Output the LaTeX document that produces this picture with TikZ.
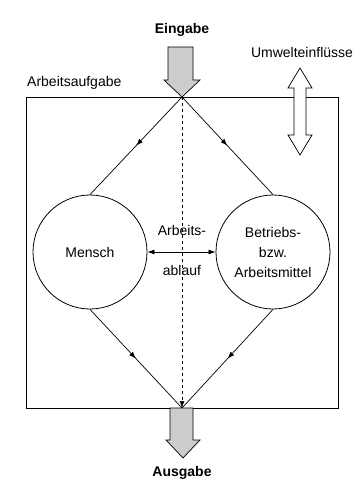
\documentclass[tikz,border=0pt]{standalone}
\usepackage{fontspec}
\setmainfont{Liberation Sans}
\usetikzlibrary{arrows.meta,decorations.markings}
\begin{document}
\begin{tikzpicture}[x=1pt,y=-1pt,
  lbl/.style={font=\fontsize{14}{20}\selectfont, inner sep=0pt, align=center},
  bold/.style={font=\fontsize{14}{20}\selectfont\bfseries, inner sep=0pt},
  circ/.style={circle, draw, line width=0.8pt, minimum size=114pt, inner sep=0pt,
    font=\fontsize{14}{20}\selectfont, align=center},
  flow/.style={line width=0.7pt, postaction={decorate},
    decoration={markings, mark=at position 0.5 with {\arrow{Latex[length=7pt,width=5pt]}}}},
  bigarrow/.style={draw, line width=0.7pt, line join=miter}
]
\useasboundingbox (0,0) rectangle (359,484);

% system boundary
\node[draw, line width=0.8pt, minimum width=312pt, minimum height=311pt,
  inner sep=0pt, anchor=north west] (box) at (26,97) {};
\node[lbl, anchor=west] (task) at (27,83) {Arbeitsaufgabe};

% apexes of the flow diamond
\coordinate (top) at (182,97);
\coordinate (bot) at (182,408);

% elements of the work system
\node[circ] (mensch) at (90,252) {Mensch};
\node[circ] (mittel) at (273,252) {Betriebs-\\bzw.\\Arbeitsmittel};

% flows
\draw[flow] (top) -- (mensch.north);
\draw[flow] (top) -- (mittel.north);
\draw[flow] (mensch.south) -- (bot);
\draw[flow] (mittel.south) -- (bot);
\draw[line width=0.7pt, dash pattern=on 3pt off 3pt, -{Latex[length=7pt,width=5pt]}] (top) -- (bot);

% work process
\draw[line width=0.7pt, {Latex[length=7pt,width=5pt]}-{Latex[length=7pt,width=5pt]}]
  (mensch.east) -- (mittel.west);
\node[lbl] (ab1) at (182,230) {Arbeits-};
\node[lbl] (ab2) at (182,270) {ablauf};

% input
\node[bold] (ein) at (182,30) {Eingabe};
\draw[bigarrow, fill=gray!40]
  (168,47) -- (193,47) -- (193,80) -- (200,80) -- (182,97) -- (164,80) -- (168,80) -- cycle;

% output
\node[bold] (aus) at (182,473) {Ausgabe};
\draw[bigarrow, fill=gray!40]
  (170,408) -- (193,408) -- (193,440) -- (200,440) -- (183,458) -- (166,440) -- (170,440) -- cycle;

% environmental influences
\node[lbl] (umw) at (302,52) {Umwelteinflüsse};
\draw[bigarrow, fill=white]
  (300,68) -- (312,88) -- (306,88) -- (306,135) -- (312,135) -- (300,155)
  -- (288,135) -- (294,135) -- (294,88) -- (288,88) -- cycle;
\end{tikzpicture}
\end{document}
